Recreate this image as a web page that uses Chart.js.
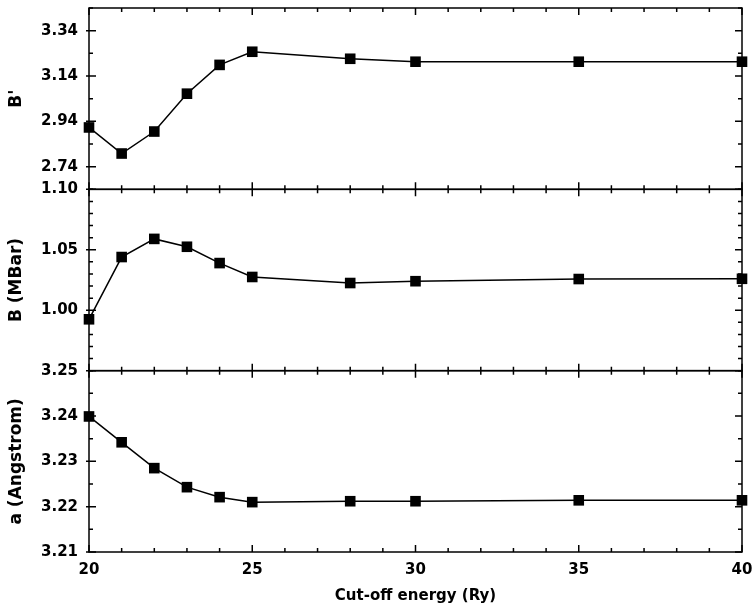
<!DOCTYPE html>
<html>
<head>
<meta charset="utf-8">
<script src="https://cdn.jsdelivr.net/npm/chart.js@4.4.1/dist/chart.umd.min.js"></script>
<style>
    html, body { margin: 0; padding: 0; background: #fff; }
    #cutoffChart { display: block; }
</style>
</head>
<body>
<canvas id="cutoffChart" width="755" height="606"></canvas>
<script>
// cut-off energy convergence
const cutoffEnergy = [20, 21, 22, 23, 24, 25, 28, 30, 35, 40];
const bPrime = [2.913, 2.798, 2.895, 3.062, 3.189, 3.247, 3.216, 3.203, 3.203, 3.203];
const bulkModulus = [0.9925, 1.044, 1.059, 1.0525, 1.039, 1.0275, 1.0225, 1.024, 1.0258, 1.026];
const latticeA = [3.2399, 3.2342, 3.2285, 3.2243, 3.2221, 3.2210, 3.2212, 3.2212, 3.2214, 3.2214];

const xTicks = [20, 25, 30, 35, 40];
const bPrimeTicks = [2.74, 2.94, 3.14, 3.34];
const bulkTicks = [1.00, 1.05, 1.10];
const latticeTicks = [3.21, 3.22, 3.23, 3.24, 3.25];

const ink = '#000000';
const family = "'DejaVu Sans', sans-serif";

const fixedTicks = (values) => (scale) => {
    scale.ticks = values.map((value) => ({ value }));
};

const panelAxis = (min, max, ticks, title) => ({
    type: 'linear',
    position: 'left',
    stack: 'panels',
    min: min,
    max: max,
    border: { display: false },
    grid: { display: false, drawTicks: false },
    afterBuildTicks: fixedTicks(ticks),
    afterFit: (scale) => {
        scale.width = 89;
        scale.paddingTop = 0;
        scale.paddingBottom = 0;
    },
    ticks: {
        autoSkip: false,
        color: ink,
        padding: 11,
        font: { family: family, size: 15, weight: 'bold' },
        callback: (value) => Number(value).toFixed(2),
    },
    title: {
        display: true,
        text: title,
        color: ink,
        font: { family: family, size: 17, weight: 'bold' },
        padding: { top: 6, bottom: 0 },
    },
});

// minor tick steps per panel, majors are the labelled ticks
const panels = [
    { id: 'yPrime', step: 0.1, major: bPrimeTicks },
    { id: 'yBulk', step: 0.01, major: bulkTicks },
    { id: 'yLattice', step: 0.005, major: latticeTicks },
];
const xMinorStep = 1;

const panelFrames = {
    id: 'panelFrames',
    beforeDatasetsDraw(chart) {
        const { ctx, chartArea } = chart;
        const xScale = chart.scales.x;
        const left = chartArea.left;
        const right = chartArea.right;

        ctx.save();
        ctx.strokeStyle = ink;
        ctx.lineWidth = 1.5;

        panels.forEach((panel) => {
            const scale = chart.scales[panel.id];
            const top = scale.top;
            const bottom = scale.bottom;

            ctx.strokeRect(left, top, right - left, bottom - top);

            ctx.beginPath();
            const count = Math.round((scale.max - scale.min) / panel.step);
            for (let i = 0; i <= count; i++) {
                const value = scale.min + i * panel.step;
                const y = scale.getPixelForValue(value);
                const isMajor = panel.major.some((m) => Math.abs(m - value) < 1e-6);
                const len = isMajor ? 7 : 4;
                ctx.moveTo(left - (isMajor ? 3 : 0), y);
                ctx.lineTo(left + len, y);
                ctx.moveTo(right - len, y);
                ctx.lineTo(right, y);
            }

            const xCount = Math.round((xScale.max - xScale.min) / xMinorStep);
            for (let i = 0; i <= xCount; i++) {
                const value = xScale.min + i * xMinorStep;
                const x = xScale.getPixelForValue(value);
                const len = xTicks.includes(value) ? 7 : 4;
                ctx.moveTo(x, top);
                ctx.lineTo(x, top + len);
                ctx.moveTo(x, bottom - len);
                ctx.lineTo(x, bottom);
            }
            ctx.stroke();
        });

        ctx.restore();
    },
};

const series = (label, values, axisId) => ({
    label: label,
    data: cutoffEnergy.map((x, i) => ({ x: x, y: values[i] })),
    yAxisID: axisId,
    borderColor: ink,
    backgroundColor: ink,
    borderWidth: 1.5,
    pointStyle: 'rect',
    pointRadius: 7.5,
    pointBorderWidth: 0,
    tension: 0,
    clip: false,
});

new Chart(document.getElementById('cutoffChart'), {
    type: 'line',
    data: {
        datasets: [
            series("B'", bPrime, 'yPrime'),
            series('B (MBar)', bulkModulus, 'yBulk'),
            series('a (Angstrom)', latticeA, 'yLattice'),
        ],
    },
    options: {
        responsive: false,
        animation: false,
        devicePixelRatio: 1,
        layout: { padding: { top: 8, right: 13, left: 0, bottom: 0 } },
        plugins: {
            legend: { display: false },
            tooltip: { enabled: false },
        },
        scales: {
            x: {
                type: 'linear',
                position: 'bottom',
                min: 20,
                max: 40,
                border: { display: false },
                grid: { display: false, drawTicks: false },
                afterBuildTicks: fixedTicks(xTicks),
                afterFit: (scale) => {
                    scale.height = 54;
                    scale.paddingLeft = 0;
                    scale.paddingRight = 0;
                },
                ticks: {
                    autoSkip: false,
                    color: ink,
                    padding: 9,
                    font: { family: family, size: 15, weight: 'bold' },
                },
                title: {
                    display: true,
                    text: 'Cut-off energy (Ry)',
                    color: ink,
                    font: { family: family, size: 15, weight: 'bold' },
                    padding: { top: 0, bottom: 1 },
                },
            },
            yLattice: panelAxis(3.21, 3.25, latticeTicks, 'a (Angstrom)'),
            yBulk: panelAxis(0.95, 1.10, bulkTicks, 'B (MBar)'),
            yPrime: panelAxis(2.64, 3.44, bPrimeTicks, "B'"),
        },
    },
    plugins: [panelFrames],
});
</script>
</body>
</html>
